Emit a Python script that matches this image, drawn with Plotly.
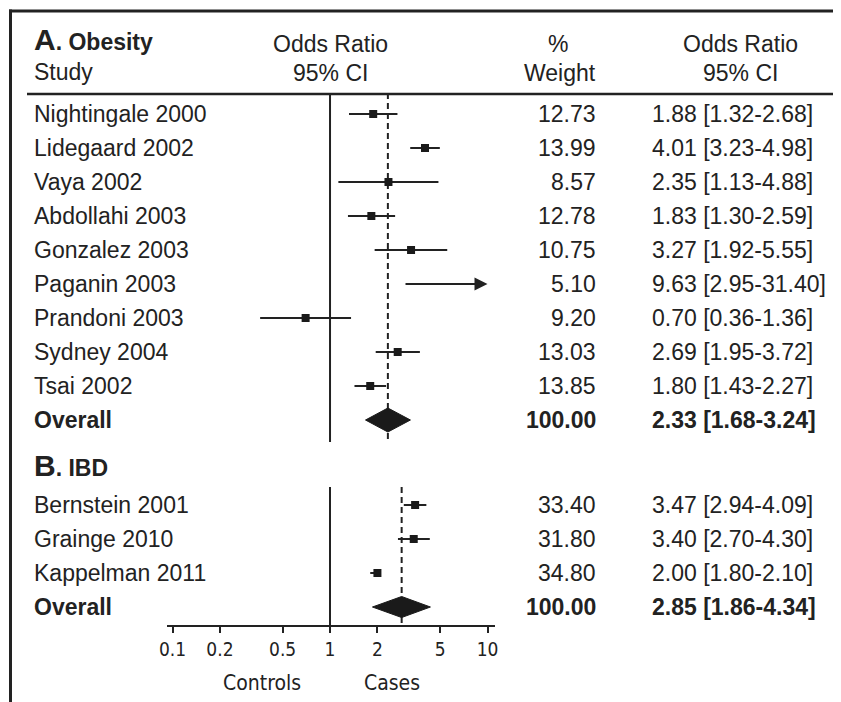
import math
import plotly.graph_objects as go

# ---------------- data ----------------
obesity_studies = ["Nightingale 2000", "Lidegaard 2002", "Vaya 2002", "Abdollahi 2003",
                   "Gonzalez 2003", "Paganin 2003", "Prandoni 2003", "Sydney 2004", "Tsai 2002"]
obesity_or = [1.88, 4.01, 2.35, 1.83, 3.27, 9.63, 0.70, 2.69, 1.80]
obesity_lo = [1.32, 3.23, 1.13, 1.30, 1.92, 2.95, 0.36, 1.95, 1.43]
obesity_hi = [2.68, 4.98, 4.88, 2.59, 5.55, 31.40, 1.36, 3.72, 2.27]
obesity_wt = [12.73, 13.99, 8.57, 12.78, 10.75, 5.10, 9.20, 13.03, 13.85]
obesity_overall = [2.33, 1.68, 3.24]   # OR, lower, upper
obesity_overall_wt = 100.00

ibd_studies = ["Bernstein 2001", "Grainge 2010", "Kappelman 2011"]
ibd_or = [3.47, 3.40, 2.00]
ibd_lo = [2.94, 2.70, 1.80]
ibd_hi = [4.09, 4.30, 2.10]
ibd_wt = [33.40, 31.80, 34.80]
ibd_overall = [2.85, 1.86, 4.34]
ibd_overall_wt = 100.00

tick_vals = [0.1, 0.2, 0.5, 1, 2, 5, 10]
tick_text = ["0.1", "0.2", "0.5", "1", "2", "5", "10"]
axis_max = 10

# ---------------- layout geometry (screen pixels) ----------------
W, H = 841, 702
OFF = 8                    # page body margin
PL, PR = 167, 495          # plot area in screen pixels (x)
PT, PB = 93, 625           # plot area in screen pixels (y)
INK = "#222222"
FONT = "Liberation Sans, Arial, Helvetica, sans-serif"
NARROW = "Liberation Sans Narrow, Arial Narrow, DejaVu Sans Condensed, sans-serif"
FS = 23


def px(p):
    return (p - PL) / (PR - PL)


def py(p):
    return (PB - p) / (PB - PT)


row_a = [114 + 34 * i for i in range(len(obesity_studies))]
row_a_overall = 114 + 34 * len(obesity_studies)
row_b_head = 465
row_b = [505 + 34 * i for i in range(len(ibd_studies))]
row_b_overall = 505 + 34 * len(ibd_studies)

fig = go.Figure()
annotations = []


def txt(x, y, s, anchor="left", size=FS, bold=False, family=FONT):
    if bold:
        s = "<b>" + s + "</b>"
    annotations.append(dict(x=px(x), y=py(y), xref="paper", yref="paper", text=s,
                            showarrow=False, xanchor=anchor, yanchor="middle",
                            font=dict(family=family, size=size, color=INK)))


# reference lines (solid at OR=1, dashed at overall OR)
sec_a = (PT, 442)
sec_b = (487, PB)
fig.add_trace(go.Scatter(x=[1, 1, None, 1, 1], y=[sec_a[0], sec_a[1], None, sec_b[0], sec_b[1]],
                         mode="lines", line=dict(color=INK, width=2), hoverinfo="skip",
                         showlegend=False, cliponaxis=False))
fig.add_trace(go.Scatter(x=[obesity_overall[0]] * 2 + [None] + [ibd_overall[0]] * 2,
                         y=[sec_a[0], sec_a[1], None, sec_b[0], sec_b[1]],
                         mode="lines", line=dict(color=INK, width=2, dash="6px,4px"),
                         hoverinfo="skip", showlegend=False, cliponaxis=False))


def add_section(studies, ors, los, his, wts, rows, overall, overall_wt, overall_row, half_h):
    xs, ys, mx, my = [], [], [], []
    for o, lo, hi, r in zip(ors, los, his, rows):
        if hi > axis_max:
            annotations.append(dict(x=math.log10(axis_max), y=r, ax=math.log10(lo), ay=r,
                                    xref="x", yref="y", axref="x", ayref="y", text="",
                                    showarrow=True, arrowhead=2, arrowsize=1.3, arrowwidth=2,
                                    arrowcolor=INK, standoff=0))
        else:
            xs += [lo, hi, None]
            ys += [r, r, None]
            mx.append(o)
            my.append(r)
    fig.add_trace(go.Scatter(x=xs, y=ys, mode="lines", line=dict(color=INK, width=2),
                             hoverinfo="skip", showlegend=False, cliponaxis=False))
    fig.add_trace(go.Scatter(x=mx, y=my, mode="markers",
                             marker=dict(symbol="square", size=8, color="#1a1a1a"),
                             hoverinfo="skip", showlegend=False, cliponaxis=False))
    ov, ovlo, ovhi = overall
    fig.add_trace(go.Scatter(x=[ovlo, ov, ovhi, ov, ovlo],
                             y=[overall_row, overall_row - half_h, overall_row,
                                overall_row + half_h, overall_row],
                             mode="lines", fill="toself", fillcolor="#1a1a1a",
                             line=dict(color="#1a1a1a", width=1), hoverinfo="skip",
                             showlegend=False, cliponaxis=False))
    for s, o, lo, hi, w, r in zip(studies, ors, los, his, wts, rows):
        txt(32, r, s)
        txt(598, r, f"{w:.2f}", anchor="right")
        txt(650, r, f"{o:.2f} [{lo:.2f}-{hi:.2f}]")
    txt(32, overall_row, "Overall", bold=True)
    txt(598, overall_row, f"{overall_wt:.2f}", anchor="right", bold=True)
    txt(650, overall_row, f"{ov:.2f} [{ovlo:.2f}-{ovhi:.2f}]", bold=True)


add_section(obesity_studies, obesity_or, obesity_lo, obesity_hi, obesity_wt, row_a,
            obesity_overall, obesity_overall_wt, row_a_overall, 12)
add_section(ibd_studies, ibd_or, ibd_lo, ibd_hi, ibd_wt, row_b,
            ibd_overall, ibd_overall_wt, row_b_overall, 10.5)

# headers
txt(32, 40, "<span style='font-size:30px'>A</span>. Obesity", bold=True)
txt(32, 72, "Study")
txt(330, 44, "Odds Ratio", anchor="center")
txt(330, 73, "95% CI", anchor="center")
txt(558, 44, "%", anchor="center")
txt(598, 73, "Weight", anchor="right")
txt(740, 44, "Odds Ratio", anchor="center")
txt(740, 73, "95% CI", anchor="center")
txt(32, row_b_head, "<span style='font-size:30px'>B</span>. IBD", bold=True)
txt(262, 683, "Controls", anchor="center", size=21, family=NARROW)
txt(392, 683, "Cases", anchor="center", size=21, family=NARROW)

shapes = [
    # frame: top and left borders
    dict(type="line", xref="paper", yref="paper", x0=px(9), x1=px(860), y0=py(11), y1=py(11),
         line=dict(color=INK, width=3)),
    dict(type="line", xref="paper", yref="paper", x0=px(10.5), x1=px(10.5), y0=py(9.5), y1=py(720),
         line=dict(color=INK, width=3)),
    # header rule
    dict(type="line", xref="paper", yref="paper", x0=px(27), x1=px(837), y0=py(94), y1=py(94),
         line=dict(color=INK, width=2.5)),
]

lo_r = math.log10(tick_vals[0]) - 0.035
hi_r = math.log10(tick_vals[-1]) + 0.0475
fig.update_layout(
    width=W, height=H,
    margin=dict(l=PL - OFF, r=W - (PR - OFF), t=PT - OFF, b=H - (PB - OFF), pad=0),
    paper_bgcolor="white", plot_bgcolor="white",
    showlegend=False,
    annotations=annotations,
    shapes=shapes,
    xaxis=dict(type="log", range=[lo_r, hi_r], tickvals=tick_vals, ticktext=tick_text,
               showline=True, linecolor=INK, linewidth=2, ticks="outside", ticklen=6,
               tickwidth=2, tickcolor=INK, showgrid=False, zeroline=False,
               tickfont=dict(family=NARROW, size=19, color=INK), fixedrange=True),
    yaxis=dict(range=[PB, PT], visible=False, showgrid=False, zeroline=False, fixedrange=True),
)

fig.write_html("out.html")
